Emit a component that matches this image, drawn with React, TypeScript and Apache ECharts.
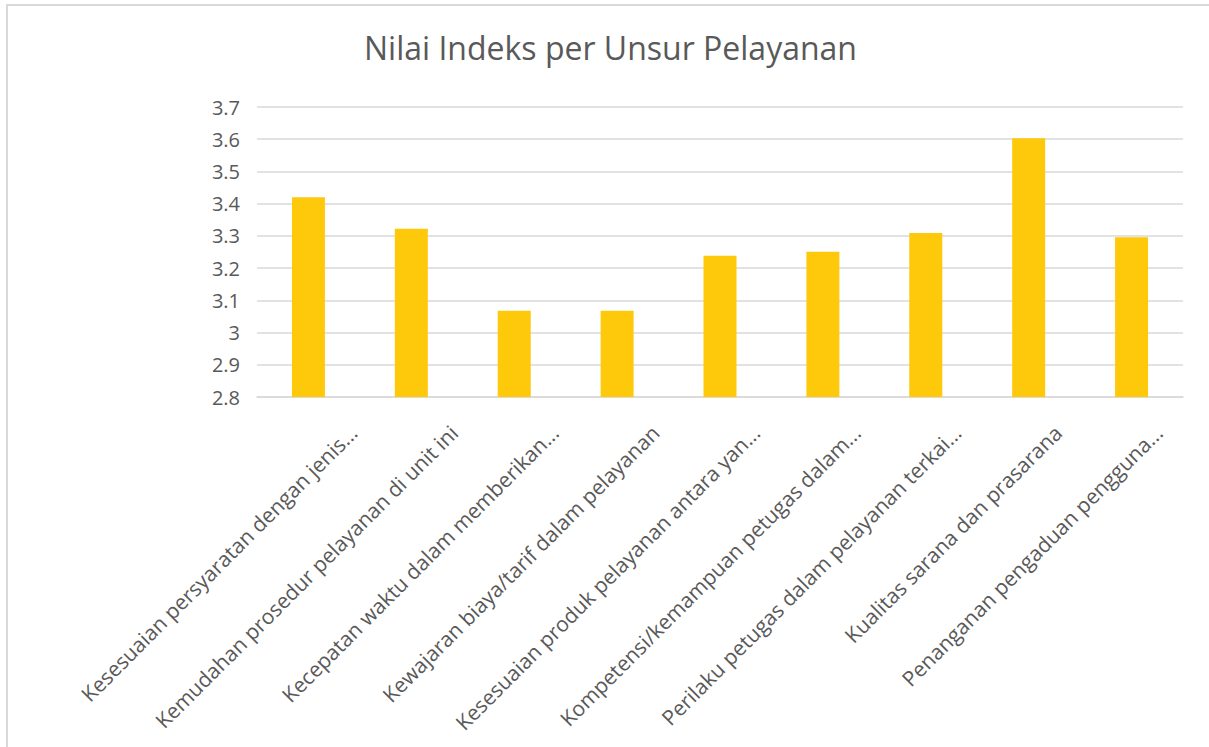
import React, { useEffect, useRef } from "react";
import * as echarts from "echarts";

const TITLE = "Nilai Indeks per Unsur Pelayanan";

const categories = [
  "Kesesuaian persyaratan dengan jenis...",
  "Kemudahan prosedur pelayanan di unit ini",
  "Kecepatan waktu dalam memberikan...",
  "Kewajaran biaya/tarif dalam pelayanan",
  "Kesesuaian produk pelayanan antara yan...",
  "Kompetensi/kemampuan petugas dalam...",
  "Perilaku petugas dalam pelayanan terkai...",
  "Kualitas sarana dan prasarana",
  "Penanganan pengaduan pengguna...",
];

const values = [3.42, 3.322, 3.068, 3.068, 3.238, 3.251, 3.309, 3.603, 3.296];

const yMin = 2.8;
const yMax = 3.7;
const yStep = 0.1;

export default function App() {
  const ref = useRef<HTMLDivElement>(null);

  useEffect(() => {
    if (!ref.current) return;
    const chart = echarts.init(ref.current, null, { renderer: "svg" });
    const font = "'Open Sans', sans-serif";
    const labelShift = 46;
    chart.setOption({
      animation: false,
      backgroundColor: "#ffffff",
      title: {
        text: TITLE,
        left: 359,
        top: 26,
        textStyle: {
          fontFamily: font,
          fontSize: 32,
          fontWeight: "normal",
          color: "#595959",
        },
      },
      graphic: [
        {
          type: "rect",
          shape: { x: 7, y: 5, width: 1240, height: 800 },
          style: { fill: "none", stroke: "#d9d9d9", lineWidth: 2 },
          silent: true,
        },
      ],
      grid: [
        { left: 257, right: 26, top: 107, bottom: 350 },
        { left: 257 + labelShift, right: 26 - labelShift, top: 107, bottom: 350 },
      ],
      xAxis: [
        {
          type: "category",
          gridIndex: 0,
          data: categories,
          axisLine: { show: true, lineStyle: { color: "#d9d9d9", width: 1.5 } },
          axisTick: { show: false },
          axisLabel: { show: false },
        },
        {
          type: "category",
          gridIndex: 1,
          data: categories,
          axisLine: { show: false },
          axisTick: { show: false },
          axisLabel: {
            interval: 0,
            rotate: 45,
            margin: 32,
            fontFamily: font,
            fontSize: 21,
            color: "#595959",
          },
        },
      ],
      yAxis: [
        {
          type: "value",
          gridIndex: 0,
          min: yMin,
          max: yMax,
          interval: yStep,
          axisLine: { show: false },
          axisTick: { show: false },
          splitLine: { lineStyle: { color: "#d9d9d9", width: 1.5 } },
          axisLabel: {
            margin: 17,
            fontFamily: font,
            fontSize: 20,
            color: "#595959",
            formatter: (v: number) => String(+v.toFixed(1)),
          },
        },
        {
          type: "value",
          gridIndex: 1,
          min: yMin,
          max: yMax,
          interval: yStep,
          show: false,
        },
      ],
      series: [
        {
          type: "bar",
          xAxisIndex: 0,
          yAxisIndex: 0,
          data: values,
          barWidth: 33,
          itemStyle: { color: "#FFC90B" },
        },
      ],
    });
    return () => chart.dispose();
  }, []);

  return (
    <div
      ref={ref}
      style={{ position: "fixed", left: 0, top: 0, width: 1209, height: 747 }}
    />
  );
}
